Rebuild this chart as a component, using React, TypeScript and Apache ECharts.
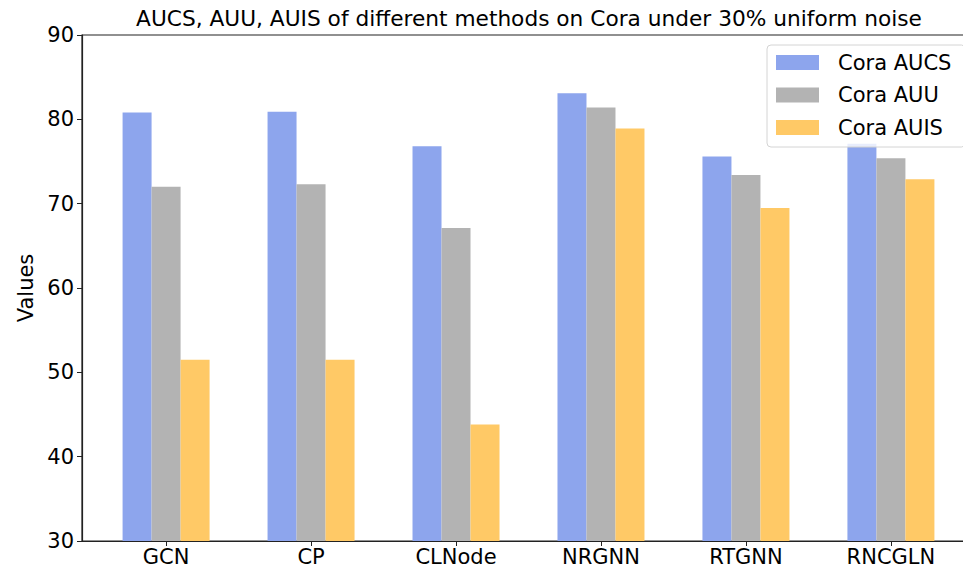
import React, { useEffect, useRef } from "react";
import * as echarts from "echarts";

const categories = ["GCN", "CP", "CLNode", "NRGNN", "RTGNN", "RNCGLN"];
const seriesNames = ["Cora AUCS", "Cora AUU", "Cora AUIS"];
const aucs = [80.8, 80.9, 76.8, 83.1, 75.6, 77.1];
const auu = [72.0, 72.3, 67.1, 81.4, 73.4, 75.4];
const auis = [51.5, 51.5, 43.8, 78.9, 69.5, 72.9];
const yTicks = [30, 40, 50, 60, 70, 80, 90];
const colors = ["#8DA5ED", "#B3B3B3", "#FFC966"];

const FONT = "DejaVu Sans";

export default function App() {
  const ref = useRef<HTMLDivElement>(null);
  useEffect(() => {
    document.body.style.margin = "0";
    if (!ref.current) return;
    const chart = echarts.init(ref.current, null, { renderer: "svg" });
    const values = [aucs, auu, auis];
    const idx = categories.map((_, i) => i);
    chart.setOption({
      animation: false,
      textStyle: { fontFamily: FONT },
      title: {
        text: "AUCS, AUU, AUIS of different methods on Cora under 30% uniform noise",
        left: 529,
        top: 7,
        textAlign: "center",
        padding: 0,
        textStyle: { fontFamily: FONT, fontSize: 21.7, fontWeight: "normal", color: "#000" },
      },
      legend: {
        orient: "vertical",
        left: 767,
        top: 45,
        padding: [7, 14, 9, 9],
        itemWidth: 43,
        itemHeight: 15,
        itemGap: 11.5,
        backgroundColor: "rgba(255,255,255,0.8)",
        borderColor: "#d4d4d4",
        borderWidth: 1,
        borderRadius: 4,
        textStyle: { fontFamily: FONT, fontSize: 21, color: "#000", lineHeight: 21, padding: [0, 0, 0, 14] },
        data: seriesNames.map((n) => ({ name: n, icon: "rect" })),
      },
      grid: {
        left: 82,
        right: -12,
        top: 35,
        bottom: 30,
        show: true,
        borderColor: "#222",
        borderWidth: 1.2,
        outerBoundsMode: "none",
        containLabel: false,
      },
      xAxis: {
        type: "value",
        min: -0.58,
        max: 5.58,
        splitLine: { show: false },
        axisLine: { show: true, onZero: false, lineStyle: { color: "#222", width: 1.2 } },
        axisTick: { show: true, length: 5, customValues: idx, lineStyle: { color: "#222" } },
        axisLabel: {
          customValues: idx,
          formatter: (v: number) => categories[Math.round(v)] ?? "",
          fontSize: 21,
          color: "#000",
          margin: 5,
          fontFamily: FONT,
        },
      },
      yAxis: {
        type: "value",
        min: 30,
        max: 90,
        interval: 10,
        name: "Values",
        nameLocation: "middle",
        nameGap: 44,
        nameTextStyle: { fontSize: 21, color: "#000", fontFamily: FONT },
        splitLine: { show: false },
        axisLine: { show: true, onZero: false, lineStyle: { color: "#222", width: 1.2 } },
        axisTick: { show: true, length: 5, lineStyle: { color: "#222" } },
        axisLabel: {
          fontSize: 21,
          color: "#000",
          margin: 8,
          fontFamily: FONT,
          customValues: yTicks,
        },
      },
      series: seriesNames.map((name, s) => ({
        name,
        type: "bar",
        barWidth: 29,
        barGap: "0%",
        itemStyle: { color: colors[s] },
        data: values[s].map((v, i) => [i, v]),
      })),
    });
    return () => chart.dispose();
  }, []);
  return <div ref={ref} style={{ width: 963, height: 571 }} />;
}
